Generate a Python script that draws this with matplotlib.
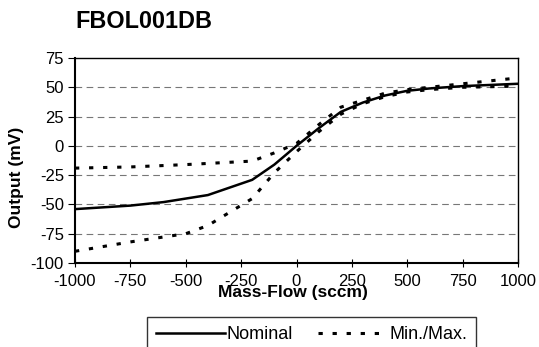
import matplotlib
matplotlib.use("Agg")
import matplotlib.pyplot as plt

plt.rcParams["font.family"] = ["Liberation Sans", "DejaVu Sans"]
plt.rcParams["axes.unicode_minus"] = False

# valores
flujo_nom = [-1000, -750, -600, -400, -200, -100, 0, 100, 200, 250, 300, 400, 500, 600, 750, 1000]
salida_nom = [-54, -51, -48, -42, -29, -16, 0, 15, 29, 33, 37, 43, 47, 49, 51, 53]

flujo_max = [-1000, -750, -500, -400, -200, -100, 0, 100, 200, 300, 400, 500, 600, 750, 1000]
salida_max = [-19, -18, -16, -15, -13, -6, 2, 18, 33, 39, 45, 48, 50, 53, 58]

flujo_min = [-1000, -750, -500, -400, -200, -100, 0, 100, 200, 300, 400, 500, 600, 750, 1000]
salida_min = [-90, -82, -75, -68, -45, -23, -5, 12, 27, 36, 42, 46, 48, 50, 51]

xticks = [-1000, -750, -500, -250, 0, 250, 500, 750, 1000]
yticks = [-100, -75, -50, -25, 0, 25, 50, 75]

W, H = 539, 347
fig = plt.figure(figsize=(W / 100, H / 100), dpi=100)
ax = fig.add_axes([75 / W, 1 - 263 / H, 443 / W, 205 / H])

for y in [-75, -50, -25, 0, 25, 50]:
    ax.axhline(y, color="#777777", lw=0.8, ls=(0, (6, 4)), zorder=0)

punteado = (0, (1.4, 3.2))
linea_nom, = ax.plot(flujo_nom, salida_nom, color="black", lw=1.8, label="Nominal")
linea_mm, = ax.plot(flujo_max, salida_max, color="black", lw=2.2, ls=punteado, label="Min./Max.")
ax.plot(flujo_min, salida_min, color="black", lw=2.2, ls=punteado)

ax.set_xlim(-1000, 1000)
ax.set_ylim(-100, 75)
ax.set_xticks(xticks)
ax.set_yticks(yticks)
ax.tick_params(labelsize=12, top=False, right=False)
ax.tick_params(axis="x", direction="inout", length=6, pad=5)
ax.tick_params(axis="y", direction="out", length=5, pad=3)
for s in ax.spines.values():
    s.set_linewidth(1.0)
ax.spines["left"].set_linewidth(1.5)
ax.spines["bottom"].set_linewidth(1.5)

fig.text(293 / W, 1 - 292 / H, "Mass-Flow (sccm)", fontsize=12.5, fontweight="bold",
         ha="center", va="center")
fig.text(17 / W, 1 - 177 / H, "Output (mV)", fontsize=12.5, fontweight="bold",
         ha="center", va="center", rotation=90)

fig.text(75 / W, 1 - 21 / H, "FBOL001DB", fontsize=16.8, fontweight="bold", va="center")

leg = fig.legend(handles=[linea_nom, linea_mm], loc="upper left",
                 bbox_to_anchor=(147 / W, 1 - 317 / H), ncol=2,
                 fontsize=13, frameon=True, fancybox=False, edgecolor="black",
                 handlelength=3.8, handletextpad=0.12, columnspacing=1.4,
                 borderpad=0.5, borderaxespad=0)
leg.get_frame().set_linewidth(1.0)

fig.savefig("out.png", dpi=100)
